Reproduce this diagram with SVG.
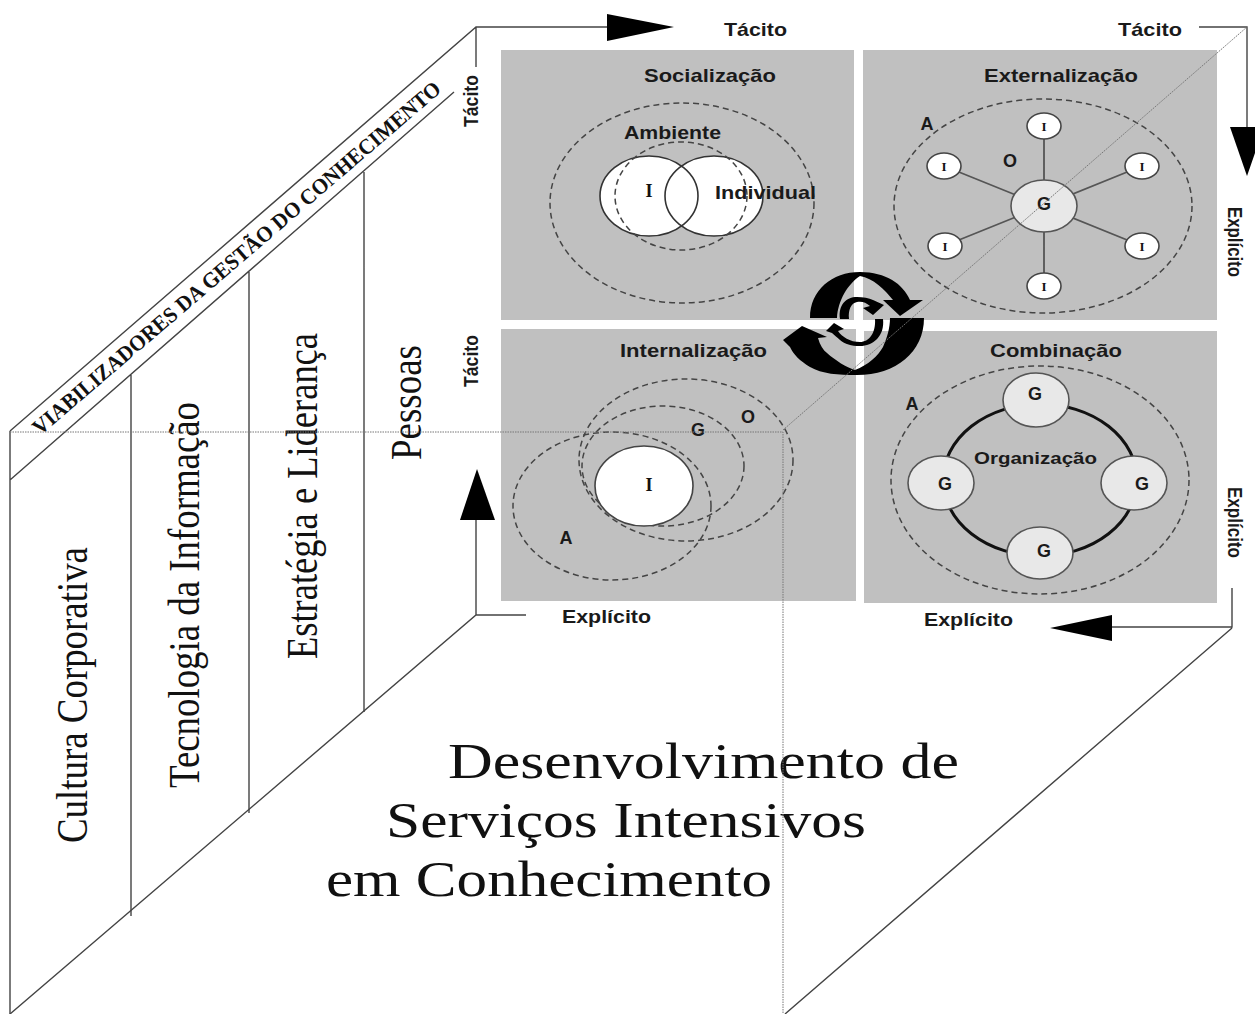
<svg xmlns="http://www.w3.org/2000/svg" width="1255" height="1014" viewBox="0 0 1255 1014">
<defs>
<style>
.q{fill:#c0c0c0}
.l{fill:none;stroke:#444;stroke-width:1.4}
.k{fill:none;stroke:#333;stroke-width:1.6}
.d{fill:none;stroke:#444;stroke-width:1.5;stroke-dasharray:6 4}
.t{stroke:#777;stroke-width:1;stroke-dasharray:1.5 1;fill:none}
.s{font-family:"Liberation Sans",Arial,sans-serif;font-weight:bold;fill:#1a1a1a}
.h{font-size:18.5px}
.a{font-size:18px;text-anchor:middle}
.r{font-family:"Liberation Serif","Times New Roman",serif;fill:#111}
.big{font-size:45px}
.hero{font-size:50px}
.i{font-size:13px;font-weight:bold;text-anchor:middle}
.g{fill:#e8e8e8;stroke:#555;stroke-width:1.6}
.w{fill:#fff;stroke:#444;stroke-width:1.6}
</style>
</defs>
<rect width="1255" height="1014" fill="#fff"/>
<g id="quadrants">
<rect class="q" x="501" y="50" width="353" height="270"/>
<rect class="q" x="863" y="50" width="354" height="270"/>
<rect class="q" x="501" y="329" width="355" height="272"/>
<rect class="q" x="864" y="331" width="353" height="272"/>
</g>
<g id="connectors">
<path class="l" d="M10 431L476 27H608M476 27V67M10 431V1014M10 480L454 92M131 375V916M249 272V813M364 172V712"/>
<path class="l" d="M10 1014L476 615H526M476 615V520"/>
<path class="l" d="M1199 27H1247V127M1232 588V627H1112M1232 628L785 1014"/>
</g>
<g id="arrows" fill="#000">
<path d="M607 14L674 27L607 41Z"/>
<path d="M1230 127H1264L1247 176Z"/>
<path d="M1112 615V641L1050 628Z"/>
<path d="M460 520L477 469L495 520Z"/>
</g>
<g id="axis-labels" class="s">
<text class="h" x="724" y="36" textLength="63" lengthAdjust="spacingAndGlyphs">Tácito</text>
<text class="h" x="1118" y="36" textLength="64" lengthAdjust="spacingAndGlyphs">Tácito</text>
<text class="h" x="562" y="623" textLength="89" lengthAdjust="spacingAndGlyphs">Explícito</text>
<text class="h" x="924" y="626" textLength="89" lengthAdjust="spacingAndGlyphs">Explícito</text>
<text font-size="21" transform="translate(478 127) rotate(-90)" textLength="52" lengthAdjust="spacingAndGlyphs">Tácito</text>
<text font-size="21" transform="translate(478 387) rotate(-90)" textLength="52" lengthAdjust="spacingAndGlyphs">Tácito</text>
<text font-size="21" transform="translate(1228 207) rotate(90)" textLength="70" lengthAdjust="spacingAndGlyphs">Explícito</text>
<text font-size="21" transform="translate(1228 487) rotate(90)" textLength="71" lengthAdjust="spacingAndGlyphs">Explícito</text>
</g>
<g id="enablers" class="r">
<text transform="translate(40 436) rotate(-40.6)" font-size="22" font-weight="bold" textLength="530" lengthAdjust="spacingAndGlyphs">VIABILIZADORES DA GESTÃO DO CONHECIMENTO</text>
<text class="big" transform="translate(87 843) rotate(-90)" textLength="296" lengthAdjust="spacingAndGlyphs">Cultura Corporativa</text>
<text class="big" transform="translate(199 788) rotate(-90)" textLength="386" lengthAdjust="spacingAndGlyphs">Tecnologia da Informação</text>
<text class="big" transform="translate(317 659) rotate(-90)" textLength="326" lengthAdjust="spacingAndGlyphs">Estratégia e Liderança</text>
<text class="big" transform="translate(421 460) rotate(-90)" textLength="115" lengthAdjust="spacingAndGlyphs">Pessoas</text>
</g>
<g id="socializacao">
<ellipse class="d" cx="682" cy="203" rx="132" ry="100"/>
<ellipse cx="649" cy="196" rx="49" ry="40" fill="#fff"/>
<ellipse cx="714" cy="196" rx="49" ry="40" fill="#fff"/>
<ellipse class="k" cx="649" cy="196" rx="49" ry="40"/>
<ellipse class="k" cx="714" cy="196" rx="49" ry="40" stroke="#666"/>
<ellipse class="d" cx="681" cy="196" rx="66" ry="54"/>
<text class="s h" x="644" y="82" textLength="132" lengthAdjust="spacingAndGlyphs">Socialização</text>
<text class="s h" x="624" y="139" textLength="97" lengthAdjust="spacingAndGlyphs">Ambiente</text>
<text class="s h" x="715" y="199" textLength="101" lengthAdjust="spacingAndGlyphs">Individual</text>
<text class="r" x="649" y="197" font-size="18" font-weight="bold" text-anchor="middle">I</text>
</g>
<g id="externalizacao">
<ellipse class="d" cx="1043" cy="206" rx="149" ry="107"/>
<path d="M1044 127V287M944 166L1142 246M1142 166L944 246" stroke="#555" stroke-width="1.8" fill="none"/>
<g class="r">
<ellipse class="w" cx="1044" cy="126" rx="17" ry="13"/><text class="i" x="1044" y="131">I</text>
<ellipse class="w" cx="944" cy="166" rx="17" ry="13"/><text class="i" x="944" y="171">I</text>
<ellipse class="w" cx="1142" cy="166" rx="17" ry="13"/><text class="i" x="1142" y="171">I</text>
<ellipse class="w" cx="945" cy="246" rx="17" ry="13"/><text class="i" x="945" y="251">I</text>
<ellipse class="w" cx="1142" cy="246" rx="17" ry="13"/><text class="i" x="1142" y="251">I</text>
<ellipse class="w" cx="1044" cy="286" rx="17" ry="13"/><text class="i" x="1044" y="291">I</text>
</g>
<ellipse class="g" cx="1044" cy="206" rx="33" ry="26"/>
<text class="s a" x="1044" y="210">G</text>
<text class="s h" x="984" y="82" textLength="154" lengthAdjust="spacingAndGlyphs">Externalização</text>
<text class="s a" x="927" y="130">A</text>
<text class="s a" x="1010" y="167">O</text>
</g>
<g id="internalizacao">
<ellipse class="d" cx="686" cy="460" rx="107" ry="81"/>
<ellipse class="d" cx="663" cy="466" rx="81" ry="60"/>
<ellipse class="d" cx="612" cy="506" rx="99" ry="74"/>
<ellipse class="w" cx="644" cy="486" rx="49" ry="40"/>
<text class="s h" x="620" y="357" textLength="147" lengthAdjust="spacingAndGlyphs">Internalização</text>
<text class="s a" x="698" y="436">G</text>
<text class="s a" x="748" y="423">O</text>
<text class="s a" x="566" y="544">A</text>
<text class="r" x="649" y="491" font-size="18" font-weight="bold" text-anchor="middle">I</text>
</g>
<g id="combinacao">
<ellipse class="d" cx="1040" cy="480" rx="149" ry="114"/>
<ellipse cx="1040" cy="480" rx="97" ry="76" fill="none" stroke="#111" stroke-width="3"/>
<ellipse class="g" cx="1036" cy="400" rx="33" ry="27"/>
<ellipse class="g" cx="941" cy="483" rx="33" ry="27"/>
<ellipse class="g" cx="1134" cy="483" rx="33" ry="27"/>
<ellipse class="g" cx="1040" cy="553" rx="33" ry="26"/>
<text class="s h" x="990" y="357" textLength="132" lengthAdjust="spacingAndGlyphs">Combinação</text>
<text class="s a" x="1035" y="400">G</text>
<text class="s a" x="945" y="490">G</text>
<text class="s a" x="1142" y="490">G</text>
<text class="s a" x="1044" y="557">G</text>
<text class="s a" x="912" y="410">A</text>
<text class="s" font-size="17" x="974" y="464" textLength="123" lengthAdjust="spacingAndGlyphs">Organização</text>
</g>
<g id="cycle" fill="#000">
<path d="M810 318C810 290 832 272 860 272C886 272 903 284 910 300H923L900 316L883 300H893C885 290 873 278 860 276C848 284 838 300 837 318Z"/>
<path d="M924 318C924 352 896 375 857 375C838 375 822 374 810 367C800 361 793 354 790 347L783 340L802 326L827 337L818 338C820 345 823 350 827 353C836 361 846 367 855 370C868 365 878 356 883 347C887 338 890 328 890 318Z"/>
<path d="M840 319C838 305 846 297 857 297C863 297 869 298 873 300L884 305L873 315L863 308L870 306C866 302 861 301 857 302C851 303 848 310 849 319Z"/>
<path d="M883 319C885 336 873 346 860 346C851 346 845 344 840 340C837 337 834 335 832 333L826 331L834 323L844 329L838 331C842 337 850 342 860 342C869 342 876 333 875 319Z"/>
</g>
<g id="title" class="r hero">
<text x="448" y="778" textLength="511" lengthAdjust="spacingAndGlyphs">Desenvolvimento de</text>
<text x="386" y="837" textLength="480" lengthAdjust="spacingAndGlyphs">Serviços Intensivos</text>
<text x="326" y="896" textLength="446" lengthAdjust="spacingAndGlyphs">em Conhecimento</text>
</g>
<g id="guides">
<path class="t" d="M10 432H783V1014M783 430L1247 27"/>
</g>
</svg>
